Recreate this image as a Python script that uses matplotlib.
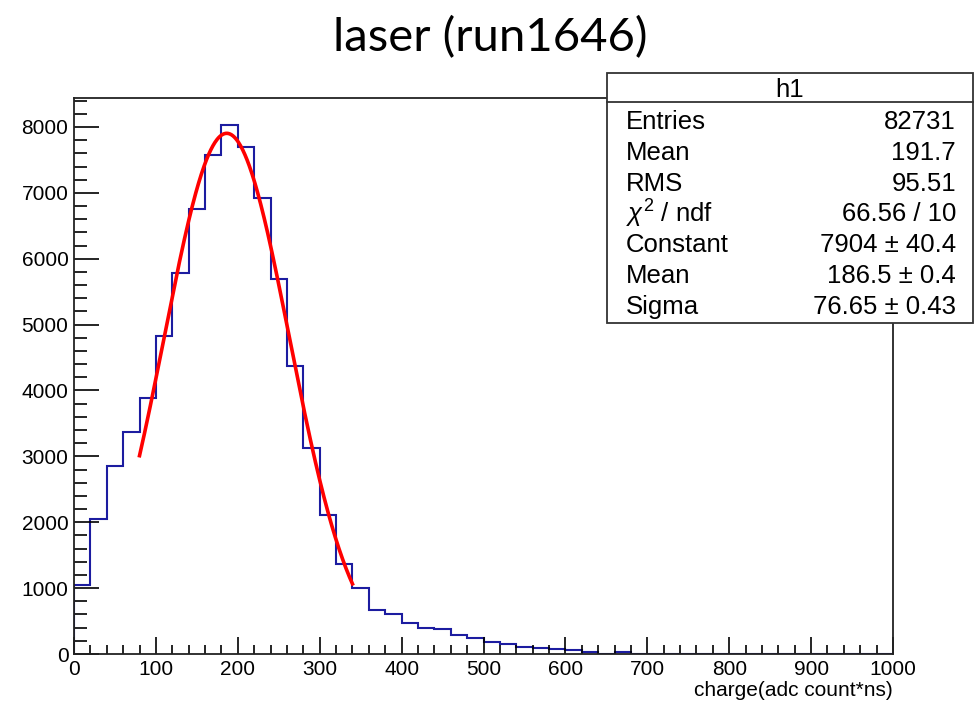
#!/usr/bin/env python3
"""
Laser run charge spectrum (ROOT-style histogram with gaussian fit)
"""

import numpy as np
import matplotlib.pyplot as plt
from matplotlib.patches import Rectangle
from matplotlib.ticker import MultipleLocator

# Histogram h1: 50 bins of 20 from 0 to 1000
bin_edges = np.arange(0, 1001, 20)
bin_counts = [1040, 2045, 2850, 3370, 3880, 4825, 5780, 6760, 7570, 8035,
              7700, 6915, 5690, 4370, 3120, 2115, 1360, 1000, 666, 601,
              469, 393, 373, 287, 241, 181, 155, 110, 84, 74,
              64, 30, 0, 30, 0, 0, 0, 0, 0, 0,
              0, 0, 0, 0, 0, 0, 0, 0, 0, 0]

# Gaussian fit (range 80-340), parameters as printed in the stats box
fit_constant = 7904
fit_mean = 186.5
fit_sigma = 76.65
fit_range = (80, 340)

stats_labels = ['Entries', 'Mean', 'RMS', r'$\chi^{2}$ / ndf', 'Constant', 'Mean', 'Sigma']
stats_values = ['82731', '191.7', '95.51', '66.56 / 10',
                '7904 \u00b1 40.4', '186.5 \u00b1 0.4', '76.65 \u00b1 0.43']

plt.rcParams['font.family'] = ['Liberation Sans', 'DejaVu Sans']
plt.rcParams['mathtext.fontset'] = 'custom'
plt.rcParams['mathtext.rm'] = 'Liberation Sans'
plt.rcParams['mathtext.it'] = 'Liberation Sans:italic'

fig = plt.figure(figsize=(9.78, 7.03), dpi=100)
ax = fig.add_axes([74 / 978, 49 / 703, 819 / 978, 556 / 703])

# histogram outline
ax.stairs(bin_counts, bin_edges, color='#1c1ca0', linewidth=1.5, baseline=0)

# fit curve
xf = np.linspace(fit_range[0], fit_range[1], 300)
yf = fit_constant * np.exp(-0.5 * ((xf - fit_mean) / fit_sigma) ** 2)
ax.plot(xf, yf, color='#ff0000', linewidth=2.6, zorder=3)

ax.set_xlim(0, 1000)
ax.set_ylim(0, 8440)
ax.xaxis.set_major_locator(MultipleLocator(100))
ax.xaxis.set_minor_locator(MultipleLocator(20))
ax.yaxis.set_major_locator(MultipleLocator(1000))
ax.yaxis.set_minor_locator(MultipleLocator(200))
ax.tick_params(axis='x', which='major', direction='in', length=12, width=1.2, labelsize=15, pad=4)
ax.tick_params(axis='x', which='minor', direction='in', length=6.5, width=1.2)
ax.tick_params(axis='y', which='major', direction='in', length=18, width=1.2, labelsize=15, pad=4)
ax.tick_params(axis='y', which='minor', direction='in', length=9, width=1.2)
for sp in ax.spines.values():
    sp.set_linewidth(1.3)
    sp.set_color('#222222')

# x title, right aligned under the axis (ROOT style)
ax.text(1.0, -0.0755, 'charge(adc count*ns)', transform=ax.transAxes,
        ha='right', va='baseline', fontsize=15)

# title
fig.text(490 / 978, 1 - 38 / 703, 'laser (run1646)', ha='center', va='center',
         fontsize=34, family='Lato')

# stats box
bx0, bx1 = 607 / 978, 973 / 978
by_top, by_bot = 1 - 73 / 703, 1 - 323 / 703
by_head = 1 - 102 / 703
fig.add_artist(Rectangle((bx0, by_bot), bx1 - bx0, by_top - by_bot, transform=fig.transFigure,
                         facecolor='white', edgecolor='#333333', linewidth=1.3, zorder=5))
fig.add_artist(plt.Line2D([bx0, bx1], [by_head, by_head], transform=fig.transFigure,
                          color='#333333', linewidth=1.3, zorder=6))
fig.text((bx0 + bx1) / 2, 1 - 90 / 703, 'h1', ha='center', va='center', fontsize=18.5, zorder=7)
for i, (lab, val) in enumerate(zip(stats_labels, stats_values)):
    yy = 1 - (122 + i * 30.8) / 703
    fig.text(626 / 978, yy, lab, ha='left', va='center', fontsize=18.5, zorder=7)
    fig.text(956 / 978, yy, val, ha='right', va='center', fontsize=18.5, zorder=7)

plt.savefig('out.png', dpi=100)
